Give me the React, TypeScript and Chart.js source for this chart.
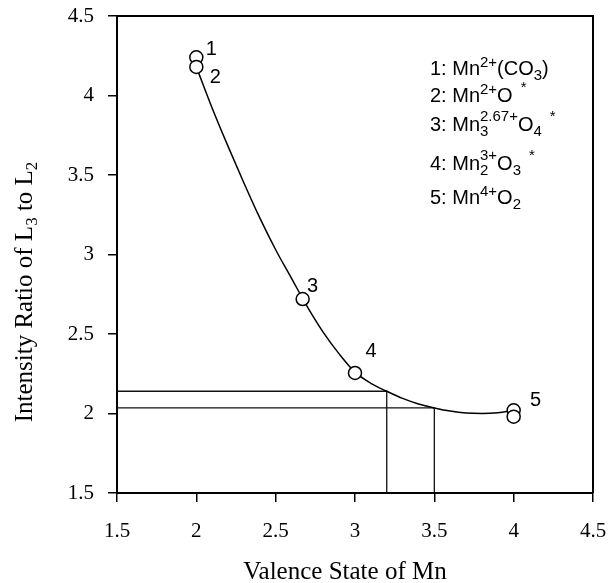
import { useEffect, useRef } from 'react';
import { Chart, registerables } from 'chart.js';

Chart.register(...registerables);

const X_TICKS = [1.5, 2, 2.5, 3, 3.5, 4, 4.5];
const Y_TICKS = [1.5, 2, 2.5, 3, 3.5, 4, 4.5];

const POINT_X = [2, 2, 2.67, 3, 4, 4];
const POINT_Y = [4.24, 4.18, 2.72, 2.255, 2.02, 1.98];

const POINT_LABELS = ['1', '2', '3', '4', '5'];
const LABEL_POINT_INDEX = [0, 1, 2, 3, 4];

const CURVE_X = [2.0, 2.1, 2.2, 2.3, 2.4, 2.5, 2.6, 2.7, 2.8, 2.9, 3.0, 3.1, 3.2, 3.3, 3.4, 3.5, 3.6, 3.7, 3.8, 3.9, 4.0];
const CURVE_Y = [4.18, 3.92, 3.68, 3.45, 3.23, 3.03, 2.85, 2.67, 2.51, 2.375, 2.26, 2.19, 2.14, 2.095, 2.06, 2.035, 2.015, 2.003, 2.0, 2.005, 2.02];

const REF_Y = [2.14, 2.035];
const REF_X = [3.2, 3.5];

const X_TITLE = 'Valence State of Mn';

type Seg = { t: string; k?: 'sup' | 'sub' | 'stack' | 'ast'; s?: string };

const LEGEND_LINES: Seg[][] = [
  [{ t: '1: Mn' }, { t: '2+', k: 'sup' }, { t: '(CO' }, { t: '3', k: 'sub' }, { t: ')' }],
  [{ t: '2: Mn' }, { t: '2+', k: 'sup' }, { t: 'O' }, { t: '*', k: 'ast' }],
  [{ t: '3: Mn' }, { t: '2.67+', k: 'stack', s: '3' }, { t: 'O' }, { t: '4', k: 'sub' }, { t: '*', k: 'ast' }],
  [{ t: '4: Mn' }, { t: '3+', k: 'stack', s: '2' }, { t: 'O' }, { t: '3', k: 'sub' }, { t: '*', k: 'ast' }],
  [{ t: '5: Mn' }, { t: '4+', k: 'sup' }, { t: 'O' }, { t: '2', k: 'sub' }],
];

const Y_TITLE: Seg[] = [
  { t: 'Intensity Ratio of L' }, { t: '3', k: 'sub' }, { t: ' to L' }, { t: '2', k: 'sub' },
];

const SANS = '"Liberation Sans", Arial, sans-serif';
const SERIF = '"Liberation Serif", "Times New Roman", serif';

function drawRich(
  ctx: CanvasRenderingContext2D,
  x0: number,
  base: number,
  segs: Seg[],
  bigFont: string,
  smallFont: string,
  supOff: number,
  subOff: number,
  measureOnly = false
): number {
  let x = x0;
  for (const seg of segs) {
    if (!seg.k) {
      ctx.font = bigFont;
      if (!measureOnly) ctx.fillText(seg.t, x, base);
      x += ctx.measureText(seg.t).width;
    } else if (seg.k === 'sup') {
      ctx.font = smallFont;
      if (!measureOnly) ctx.fillText(seg.t, x, base - supOff);
      x += ctx.measureText(seg.t).width;
    } else if (seg.k === 'sub') {
      ctx.font = smallFont;
      if (!measureOnly) ctx.fillText(seg.t, x, base + subOff);
      x += ctx.measureText(seg.t).width;
    } else if (seg.k === 'stack') {
      ctx.font = smallFont;
      if (!measureOnly) {
        ctx.fillText(seg.s || '', x, base + subOff);
        ctx.fillText(seg.t, x, base - supOff - 2);
      }
      x += Math.max(ctx.measureText(seg.t).width, ctx.measureText(seg.s || '').width);
    } else if (seg.k === 'ast') {
      ctx.font = smallFont;
      x += 8;
      if (!measureOnly) ctx.fillText(seg.t, x, base - supOff - 2);
      x += ctx.measureText(seg.t).width;
    }
  }
  return x - x0;
}

const decorPlugin = {
  id: 'decor',
  afterDatasetsDraw(chart: any) {
    const ctx: CanvasRenderingContext2D = chart.ctx;
    const { left, right, top, bottom } = chart.chartArea;
    const xs = chart.scales.x;
    const ys = chart.scales.y;
    ctx.save();
    // frame top/right
    ctx.strokeStyle = '#000';
    ctx.lineWidth = 2;
    ctx.beginPath();
    ctx.moveTo(left, top);
    ctx.lineTo(right, top);
    ctx.lineTo(right, bottom);
    ctx.stroke();

    ctx.fillStyle = '#000';

    // point labels
    const offsets = [[15, -8], [19, 11], [10, -13], [16, -21], [22, -10]];
    ctx.font = '20px ' + SANS;
    ctx.textAlign = 'center';
    ctx.textBaseline = 'middle';
    POINT_LABELS.forEach((lab, i) => {
      const pi = LABEL_POINT_INDEX[i];
      const px = xs.getPixelForValue(POINT_X[pi]);
      const py = ys.getPixelForValue(POINT_Y[pi]);
      ctx.fillText(lab, px + offsets[i][0], py + offsets[i][1]);
    });

    // legend
    ctx.textAlign = 'left';
    ctx.textBaseline = 'alphabetic';
    const baselines = [75, 102, 131, 170, 204];
    LEGEND_LINES.forEach((line, i) => {
      drawRich(ctx, 430, baselines[i], line, '20px ' + SANS, '15px ' + SANS, 8, 5);
    });

    // x title
    ctx.font = '25px ' + SERIF;
    ctx.textAlign = 'center';
    ctx.fillText(X_TITLE, 345, 579);

    // y title (rotated)
    ctx.textAlign = 'left';
    ctx.translate(32, 292);
    ctx.rotate(-Math.PI / 2);
    const w = drawRich(ctx, 0, 0, Y_TITLE, '25px ' + SERIF, '17px ' + SERIF, 8, 5, true);
    drawRich(ctx, -w / 2, 0, Y_TITLE, '25px ' + SERIF, '17px ' + SERIF, 8, 5);
    ctx.restore();
  },
};

export default function App() {
  const ref = useRef<HTMLCanvasElement>(null);
  useEffect(() => {
    document.body.style.margin = '0';
    const gridOpts = {
      drawOnChartArea: false,
      drawTicks: true,
      tickLength: 9,
      color: '#000',
      lineWidth: 1.5,
    };
    const chart = new Chart(ref.current as HTMLCanvasElement, {
      type: 'scatter',
      data: {
        datasets: [
          {
            data: POINT_X.map((x, i) => ({ x, y: POINT_Y[i] })),
            showLine: false,
            pointRadius: 6.5,
            pointBackgroundColor: '#fff',
            pointBorderColor: '#000',
            pointBorderWidth: 1.5,
            order: 0,
          },
          {
            data: CURVE_X.map((x, i) => ({ x, y: CURVE_Y[i] })),
            showLine: true,
            borderColor: '#000',
            borderWidth: 1.5,
            pointRadius: 0,
            cubicInterpolationMode: 'monotone',
            order: 1,
          },
          {
            data: [
              { x: 1.5, y: REF_Y[0] },
              { x: REF_X[0], y: REF_Y[0] },
              { x: REF_X[0], y: 1.5 },
            ],
            showLine: true,
            borderColor: '#111',
            borderWidth: 1.3,
            pointRadius: 0,
            tension: 0,
            order: 2,
          },
          {
            data: [
              { x: 1.5, y: REF_Y[1] },
              { x: REF_X[1], y: REF_Y[1] },
              { x: REF_X[1], y: 1.5 },
            ],
            showLine: true,
            borderColor: '#111',
            borderWidth: 1.3,
            pointRadius: 0,
            tension: 0,
            order: 3,
          },
        ] as any,
      },
      options: {
        animation: false,
        responsive: false,
        devicePixelRatio: 1,
        layout: { padding: { left: 0, right: 23, top: 16, bottom: 0 } },
        plugins: { legend: { display: false }, tooltip: { enabled: false } },
        scales: {
          x: {
            type: 'linear',
            min: 1.5,
            max: 4.5,
            afterBuildTicks: (s: any) => {
              s.ticks = X_TICKS.map((v) => ({ value: v }));
            },
            afterFit: (s: any) => {
              s.height = 90;
              s.paddingLeft = 0;
              s.paddingRight = 0;
            },
            ticks: {
              color: '#000',
              font: { family: SERIF, size: 21 },
              padding: 17,
              maxRotation: 0,
              callback: (v: any) => String(v),
            },
            grid: gridOpts as any,
            border: { display: true, color: '#000', width: 2 },
          },
          y: {
            type: 'linear',
            min: 1.5,
            max: 4.5,
            afterBuildTicks: (s: any) => {
              s.ticks = Y_TICKS.map((v) => ({ value: v }));
            },
            afterFit: (s: any) => {
              s.width = 117;
              s.paddingTop = 0;
              s.paddingBottom = 0;
            },
            ticks: {
              color: '#000',
              font: { family: SERIF, size: 21 },
              padding: 14,
              callback: (v: any) => String(v),
            },
            grid: gridOpts as any,
            border: { display: true, color: '#000', width: 2 },
          },
        },
      } as any,
      plugins: [decorPlugin],
    });
    return () => chart.destroy();
  }, []);
  return (
    <div style={{ width: 616, height: 583 }}>
      <canvas ref={ref} width={616} height={583} style={{ display: 'block' }} />
    </div>
  );
}
